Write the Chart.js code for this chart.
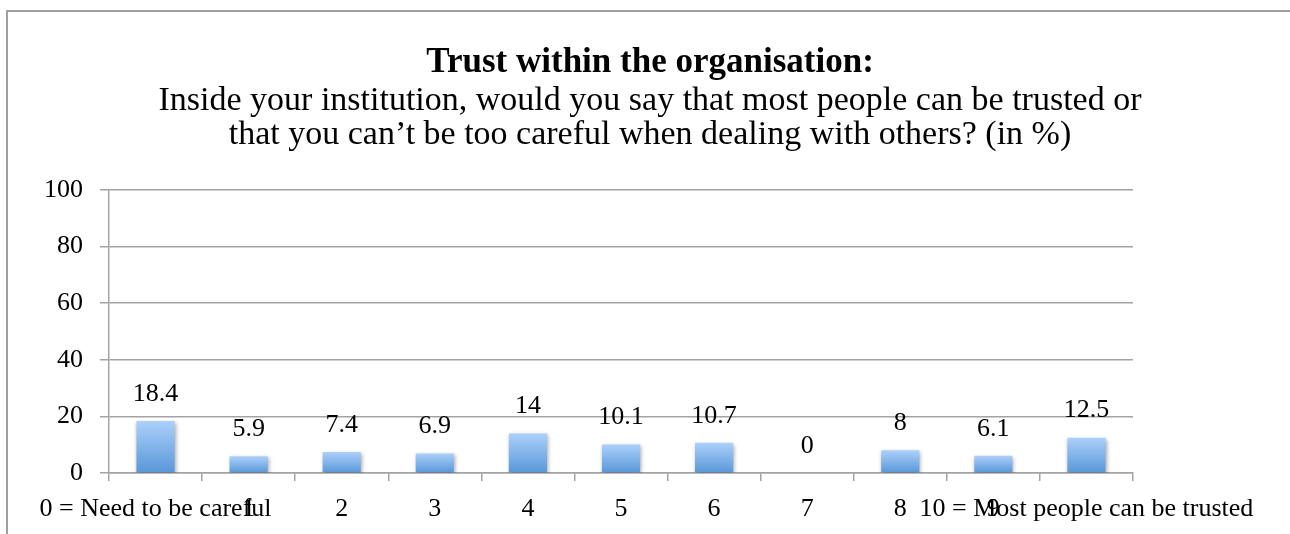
<!DOCTYPE html>
<html>
<head>
<meta charset="utf-8">
<script src="https://cdn.jsdelivr.net/npm/chart.js@4/dist/chart.umd.min.js"></script>
<style>
  html, body { margin: 0; padding: 0; background: #fff; }
  #wrap { width: 1290px; height: 534px; }
</style>
</head>
<body>
<div id="wrap"><canvas id="trustChart" width="1290" height="534"></canvas></div>
<script>
// data
const categories = ['0 = Need to be careful', '1', '2', '3', '4', '5', '6', '7', '8', '9', '10 = Most people can be trusted'];
const shares = [18.4, 5.9, 7.4, 6.9, 14, 10.1, 10.7, 0, 8, 6.1, 12.5];
const yTicks = [0, 20, 40, 60, 80, 100];

const serif = '"Liberation Serif", "DejaVu Serif", serif';
const gridGrey = '#a3a3a3';

// white page + grey outer frame (only top and left edges are in view)
const framePlugin = {
    id: 'frame',
    beforeDraw(chart) {
        const ctx = chart.ctx;
        ctx.save();
        ctx.fillStyle = '#fff';
        ctx.fillRect(0, 0, chart.width, chart.height);
        ctx.strokeStyle = '#a0a0a0';
        ctx.lineWidth = 2;
        ctx.beginPath();
        ctx.moveTo(7, chart.height + 5);
        ctx.lineTo(7, 11);
        ctx.lineTo(chart.width + 5, 11);
        ctx.stroke();
        ctx.restore();
    }
};

// soft drop shadow under the bars
const shadowPlugin = {
    id: 'barShadow',
    beforeDatasetsDraw(chart) {
        const ctx = chart.ctx;
        ctx.save();
        ctx.shadowColor = 'rgba(0, 0, 0, 0.35)';
        ctx.shadowBlur = 4;
        ctx.shadowOffsetX = 1;
        ctx.shadowOffsetY = 2;
    },
    afterDatasetsDraw(chart) {
        chart.ctx.restore();
    }
};

// value labels above each bar
const valueLabels = {
    id: 'valueLabels',
    afterDatasetsDraw(chart) {
        const ctx = chart.ctx;
        const meta = chart.getDatasetMeta(0);
        ctx.save();
        ctx.font = '26px ' + serif;
        ctx.fillStyle = '#000';
        ctx.textAlign = 'center';
        ctx.textBaseline = 'middle';
        meta.data.forEach((bar, i) => {
            ctx.fillText(String(shares[i]), bar.x, bar.y - 27);
        });
        ctx.restore();
    }
};

function barGradient(context) {
    const chart = context.chart;
    const yScale = chart.scales.y;
    if (!chart.chartArea || !yScale) return '#7fb2ea';
    const top = yScale.getPixelForValue(shares[context.dataIndex]);
    const bottom = yScale.getPixelForValue(0);
    if (bottom - top < 1) return '#7fb2ea';
    const g = chart.ctx.createLinearGradient(0, top, 0, bottom);
    g.addColorStop(0, '#acd0fb');
    g.addColorStop(1, '#5897d8');
    return g;
}

new Chart(document.getElementById('trustChart'), {
    type: 'bar',
    data: {
        labels: categories,
        datasets: [{
            data: shares,
            backgroundColor: barGradient,
            borderWidth: 0,
            barPercentage: 0.41,
            categoryPercentage: 1
        }]
    },
    plugins: [framePlugin, shadowPlugin, valueLabels],
    options: {
        responsive: false,
        animation: false,
        devicePixelRatio: 1,
        layout: { padding: { left: 10, right: 0, top: 0, bottom: 0 } },
        plugins: {
            legend: { display: false },
            tooltip: { enabled: false },
            title: {
                display: true,
                text: 'Trust within the organisation:',
                color: '#000',
                font: { family: serif, size: 35, weight: 'bold', lineHeight: 1.2 },
                padding: { top: 42, bottom: 0 }
            },
            subtitle: {
                display: true,
                text: [
                    'Inside your institution, would you say that most people can be trusted or',
                    'that you can\u2019t be too careful when dealing with others? (in %)'
                ],
                color: '#000',
                font: { family: serif, size: 34, lineHeight: 1.0 },
                padding: { top: 0, bottom: 38 }
            }
        },
        scales: {
            x: {
                afterFit(scale) { scale.height = 61; },
                grid: {
                    display: true,
                    drawOnChartArea: false,
                    drawTicks: true,
                    tickLength: 8,
                    color: gridGrey,
                    lineWidth: 1.5
                },
                border: { display: true, color: gridGrey, width: 1.5 },
                ticks: {
                    autoSkip: false,
                    maxRotation: 0,
                    minRotation: 0,
                    padding: 13,
                    color: '#000',
                    font: { family: serif, size: 26 }
                }
            },
            y: {
                min: 0,
                max: 100,
                afterFit(scale) { scale.width = 99; },
                afterBuildTicks(scale) { scale.ticks = yTicks.map(v => ({ value: v })); },
                grid: {
                    color: gridGrey,
                    lineWidth: 1.5,
                    tickLength: 9
                },
                border: { display: true, color: gridGrey, width: 1.5 },
                ticks: {
                    padding: 17,
                    color: '#000',
                    font: { family: serif, size: 26 }
                }
            },
            // blank right-hand axis: keeps the plot short of the right edge
            spacer: {
                type: 'linear',
                position: 'right',
                display: true,
                afterFit(scale) { scale.width = 157; },
                grid: { display: false },
                border: { display: false },
                ticks: { display: false }
            }
        }
    }
});
</script>
</body>
</html>
